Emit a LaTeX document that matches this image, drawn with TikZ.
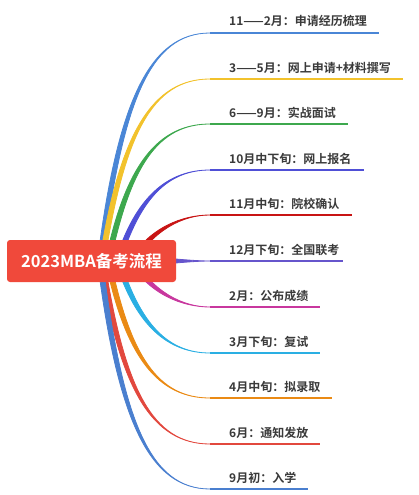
\documentclass[tikz,border=0pt]{standalone}
\usepackage{fontspec}
\setmainfont{Noto Sans CJK SC}[BoldFont={* Bold}]
\usetikzlibrary{backgrounds}
\definecolor{rootred}{HTML}{F0493B}
\definecolor{labelgray}{HTML}{3A3A3A}
\definecolor{cA}{HTML}{4A86D6}
\definecolor{cB}{HTML}{F2C22C}
\definecolor{cC}{HTML}{3DA84E}
\definecolor{cD}{HTML}{4F4FD6}
\definecolor{cE}{HTML}{C81414}
\definecolor{cF}{HTML}{6655CC}
\definecolor{cG}{HTML}{C8379E}
\definecolor{cH}{HTML}{2AAFE3}
\definecolor{cI}{HTML}{EA8A14}
\definecolor{cJ}{HTML}{E2483E}
\definecolor{cK}{HTML}{4A7FCF}

\begin{document}
\begin{tikzpicture}[x=1pt,y=-1pt,
  root/.style={rectangle,rounded corners=3pt,fill=rootred,text=white,
    minimum width=169pt,minimum height=42pt,inner sep=0pt,
    font=\fontsize{16.5}{18}\selectfont\bfseries},
  lbl/.style={anchor=base west,inner sep=0pt,text=labelgray,
    font=\fontsize{12}{14}\selectfont\bfseries},
  twig/.style={line width=1.3pt},
  taper/.style={line width=0.8pt}]
\useasboundingbox (0,0) rectangle (419,495);

\node[root] (root) at (91.5,261) {2023MBA备考流程};

% start sides, curve ends and labels
\coordinate (a1) at (97.5,260.7); \coordinate (b1) at (102.5,261.3);
\coordinate (e1) at (210,33);
\node[lbl] (t1) at (229,26) {11——2月：申请经历梳理};

\coordinate (a2) at (99.5,260.6); \coordinate (b2) at (104.5,261.4);
\coordinate (e2) at (210,79);
\node[lbl] (t2) at (229,72) {3——5月：网上申请+材料撰写};

\coordinate (a3) at (105.5,260.5); \coordinate (b3) at (110.5,261.5);
\coordinate (e3) at (210,124);
\node[lbl] (t3) at (229,117) {6——9月：实战面试};

\coordinate (a4) at (115.6,260.3); \coordinate (b4) at (120.4,261.7);
\coordinate (e4) at (210,170);
\node[lbl] (t4) at (229,163) {10月中下旬：网上报名};

\coordinate (a5) at (129.9,259.7); \coordinate (b5) at (134.1,262.3);
\coordinate (e5) at (210,215);
\node[lbl] (t5) at (229,208) {11月中旬：院校确认};

\coordinate (a6) at (160,257.5); \coordinate (b6) at (160,264.5);
\coordinate (e6) at (210,261);
\node[lbl] (t6) at (229,254) {12月下旬：全国联考};

\coordinate (a7) at (134.1,259.7); \coordinate (b7) at (129.9,262.3);
\coordinate (e7) at (210,307);
\node[lbl] (t7) at (229,300) {2月：公布成绩};

\coordinate (a8) at (120.4,260.3); \coordinate (b8) at (115.6,261.7);
\coordinate (e8) at (210,353);
\node[lbl] (t8) at (229,346) {3月下旬：复试};

\coordinate (a9) at (110.5,260.5); \coordinate (b9) at (105.5,261.5);
\coordinate (e9) at (210,398);
\node[lbl] (t9) at (229,391) {4月中旬：拟录取};

\coordinate (a10) at (104.5,260.6); \coordinate (b10) at (99.5,261.4);
\coordinate (e10) at (210,444);
\node[lbl] (t10) at (229,437) {6月：通知发放};

\coordinate (a11) at (102.5,260.7); \coordinate (b11) at (97.5,261.3);
\coordinate (e11) at (210,489);
\node[lbl] (t11) at (229,482) {9月初：入学};

\begin{scope}[on background layer]
% upper branches
\filldraw[taper,draw=cA,fill=cA] (a1) .. controls +(20,-160) and +(-60,0) .. (e1)
  .. controls +(-60,0) and +(20,-160) .. (b1) -- cycle;
\draw[twig,cA] (e1) -- (e1 -| t1.east) -- ++(12,0);
\filldraw[taper,draw=cB,fill=cB] (a2) .. controls +(20,-127) and +(-58,0) .. (e2)
  .. controls +(-58,0) and +(20,-127) .. (b2) -- cycle;
\draw[twig,cB] (e2) -- (e2 -| t2.east) -- ++(12,0);
\filldraw[taper,draw=cC,fill=cC] (a3) .. controls +(20,-96) and +(-52,0) .. (e3)
  .. controls +(-52,0) and +(20,-96) .. (b3) -- cycle;
\draw[twig,cC] (e3) -- (e3 -| t3.east) -- ++(12,0);
\filldraw[taper,draw=cD,fill=cD] (a4) .. controls +(20,-64) and +(-42,0) .. (e4)
  .. controls +(-42,0) and +(20,-64) .. (b4) -- cycle;
\draw[twig,cD] (e4) -- (e4 -| t4.east) -- ++(12,0);
\filldraw[taper,draw=cE,fill=cE] (a5) .. controls +(20,-32) and +(-28,0) .. (e5)
  .. controls +(-28,0) and +(20,-32) .. (b5) -- cycle;
\draw[twig,cE] (e5) -- (e5 -| t5.east) -- ++(12,0);
% middle branch
\filldraw[taper,draw=cF,fill=cF] (a6) .. controls +(25,2.5) and +(-10,0) .. (e6)
  .. controls +(-10,0) and +(25,-2.5) .. (b6) -- cycle;
\draw[twig,cF] (e6) -- (e6 -| t6.east) -- ++(3,0);
% lower branches
\filldraw[taper,draw=cG,fill=cG] (a7) .. controls +(20,32) and +(-28,0) .. (e7)
  .. controls +(-28,0) and +(20,32) .. (b7) -- cycle;
\draw[twig,cG] (e7) -- (e7 -| t7.east) -- ++(12,0);
\filldraw[taper,draw=cH,fill=cH] (a8) .. controls +(20,64) and +(-42,0) .. (e8)
  .. controls +(-42,0) and +(20,64) .. (b8) -- cycle;
\draw[twig,cH] (e8) -- (e8 -| t8.east) -- ++(12,0);
\filldraw[taper,draw=cI,fill=cI] (a9) .. controls +(20,96) and +(-52,0) .. (e9)
  .. controls +(-52,0) and +(20,96) .. (b9) -- cycle;
\draw[twig,cI] (e9) -- (e9 -| t9.east) -- ++(12,0);
\filldraw[taper,draw=cJ,fill=cJ] (a10) .. controls +(20,128) and +(-58,0) .. (e10)
  .. controls +(-58,0) and +(20,128) .. (b10) -- cycle;
\draw[twig,cJ] (e10) -- (e10 -| t10.east) -- ++(12,0);
\filldraw[taper,draw=cK,fill=cK] (a11) .. controls +(20,160) and +(-60,0) .. (e11)
  .. controls +(-60,0) and +(20,160) .. (b11) -- cycle;
\draw[twig,cK] (e11) -- (e11 -| t11.east) -- ++(12,0);
\end{scope}
\end{tikzpicture}
\end{document}
